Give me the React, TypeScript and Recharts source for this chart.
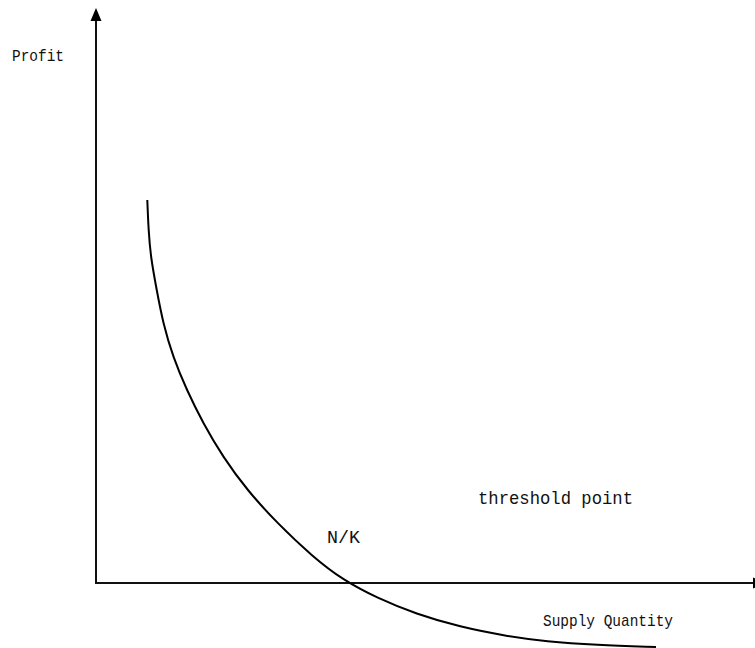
import React from "react";
import { LineChart, Line, XAxis, YAxis, ReferenceLine, ReferenceDot } from "recharts";

// Curve: supply quantity vs profit (origin at the axes crossing)
const supply = [51.3, 52.5, 54.7, 60.7, 67, 77, 90.7, 107, 127, 151, 181, 217, 247, 281, 320, 364, 410, 450, 500, 560];
const profit = [383, 353, 326, 293, 260, 226, 193, 160, 126, 93, 60, 26, 3, -15, -31, -44, -53, -58.5, -62, -64];

const data = supply.map((s, i) => ({ supply: s, profit: profit[i] }));

const X_DOMAIN: [number, number] = [-96, 659];
const Y_DOMAIN: [number, number] = [-65, 583];

const FONT = "'Liberation Mono', 'DejaVu Sans Mono', monospace";

type Lbl = { text: string; x: number; y: number; size: number; len: number };
const labels: Lbl[] = [
  { text: "Profit", x: -84, y: 522, size: 17, len: 52 },
  { text: "N/K", x: 231, y: 40, size: 19, len: 33 },
  { text: "threshold point", x: 382, y: 79, size: 19, len: 155 },
  { text: "Supply Quantity", x: 447, y: -43, size: 17, len: 130 },
];

export default function App() {
  return (
    <div style={{ position: "absolute", left: 0, top: 0, width: 755, height: 648, background: "#fff" }}>
      <LineChart width={755} height={648} data={data} margin={{ top: 0, right: 0, bottom: 0, left: 0 }}>
        <XAxis type="number" dataKey="supply" domain={X_DOMAIN} allowDataOverflow hide />
        <YAxis type="number" domain={Y_DOMAIN} allowDataOverflow hide />
        <ReferenceLine
          segment={[{ x: 0, y: 0 }, { x: 0, y: 564 }]}
          stroke="#111"
          strokeWidth={2}
          ifOverflow="visible"
        />
        <ReferenceLine
          segment={[{ x: -1, y: 0 }, { x: 659, y: 0 }]}
          stroke="#111"
          strokeWidth={2}
          ifOverflow="visible"
        />
        <ReferenceDot
          x={0}
          y={575}
          ifOverflow="visible"
          shape={(p: any) => (
            <polygon
              points={`${p.cx},${p.cy} ${p.cx - 5.5},${p.cy + 13} ${p.cx + 5.5},${p.cy + 13}`}
              fill="#000"
            />
          )}
        />
        <ReferenceDot
          x={657}
          y={0}
          ifOverflow="visible"
          shape={(p: any) => (
            <polygon
              points={`${p.cx + 13},${p.cy} ${p.cx},${p.cy - 5.5} ${p.cx},${p.cy + 5.5}`}
              fill="#000"
            />
          )}
        />
        <Line
          type="basis"
          dataKey="profit"
          stroke="#000"
          strokeWidth={2}
          dot={false}
          activeDot={false}
          isAnimationActive={false}
        />
        {labels.map((l) => (
          <ReferenceDot
            key={l.text}
            x={l.x}
            y={l.y}
            ifOverflow="visible"
            shape={(p: any) => (
              <text
                x={p.cx}
                y={p.cy}
                fontFamily={FONT}
                fontSize={l.size}
                fill="#111"
                textLength={l.len}
                lengthAdjust="spacingAndGlyphs"
              >
                {l.text}
              </text>
            )}
          />
        ))}
      </LineChart>
    </div>
  );
}
